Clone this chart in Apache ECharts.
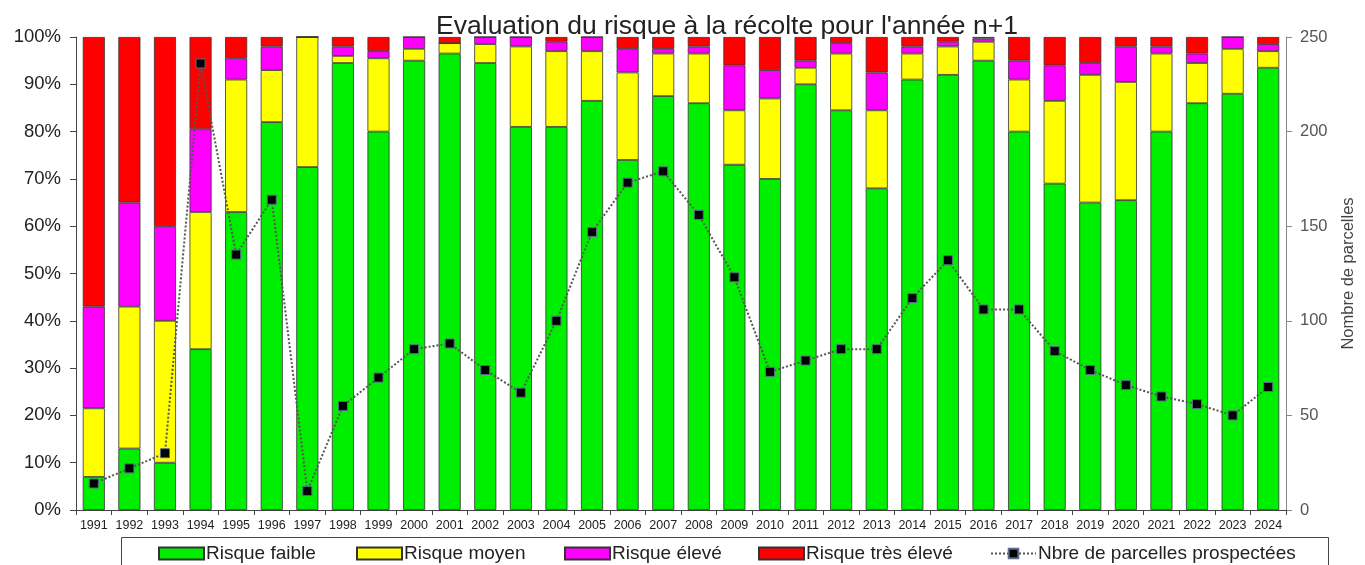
<!DOCTYPE html>
<html>
<head>
<meta charset="utf-8">
<script src="https://cdn.jsdelivr.net/npm/echarts@6/dist/echarts.min.js"></script>
<style>
html,body{margin:0;padding:0;background:#fff;}
#chart{width:1365px;height:565px;}
</style>
</head>
<body>
<div id="chart"></div>
<script>
const years = ['1991','1992','1993','1994','1995','1996','1997','1998','1999','2000','2001','2002','2003','2004','2005','2006','2007','2008','2009','2010','2011','2012','2013','2014','2015','2016','2017','2018','2019','2020','2021','2022','2023','2024'];
const risqueFaible = [7,13,10,34,63,82,72.5,94.5,80,95,96.5,94.5,81,81,86.5,74,87.5,86,73,70,90,84.5,68,91,92,95,80,69,65,65.5,80,86,88,93.5];
const risqueMoyen = [14.5,30,30,29,28,11,27.5,1.5,15.5,2.5,2.2,4,17,16,10.5,18.5,9,10.5,11.5,17,3.5,12,16.5,5.5,6,4,11,17.5,27,25,16.5,8.5,9.5,3.5];
const risqueEleve = [21.5,22,20,17.5,4.5,5,0,2,1.5,2.5,0,1.5,2,2,3,5,1,1.5,9.5,6,1.5,2.2,8,1.5,1,0.7,4,7.5,2.5,7.5,1.5,2,2.5,1.5];
const risqueTresEleve = [57,35,40,19.5,4.5,2,0,2,3,0,1.3,0,0,1,0,2.5,2.5,2,6,7,5,1.3,7.5,2,1,0.3,5,6,5.5,2,2,3.5,0,1.5];
const nbreParcelles = [14,22,30,236,135,164,10,55,70,85,88,74,62,100,147,173,179,156,123,73,79,85,85,112,132,106,106,84,74,66,60,56,50,65];
const leftTicks = [0,10,20,30,40,50,60,70,80,90,100];
const rightTicks = [0,50,100,150,200,250];
const seriesNames = ['Risque faible','Risque moyen','Risque élevé','Risque très élevé','Nbre de parcelles prospectées'];

const chart = echarts.init(document.getElementById('chart'));
const FONT = "'Liberation Sans', Arial, sans-serif";
const barStyle = (c) => ({color: c, borderColor: '#333', borderWidth: 0.8});
const mkBar = (name, data, color) => ({
  name, type: 'bar', stack: 'risque', data, barCategoryGap: '38%',
  itemStyle: barStyle(color), emphasis: {disabled: true}
});
const legendLefts = [158, 356, 564, 758, 990];
const legends = seriesNames.map((n, i) => ({
  left: legendLefts[i], top: 544, itemWidth: 45, itemHeight: 12, padding: 0,
  textStyle: {fontSize: 19, color: '#222', fontFamily: FONT, padding: [0,0,0,-3]},
  data: i < 4 ? [{name: n, icon: 'rect'}] : [{name: n}]
}));
chart.setOption({
  animation: false,
  textStyle: {fontFamily: FONT},
  title: {
    text: "Evaluation du risque à la récolte pour l'année n+1",
    left: 722, textAlign: 'center', top: 8,
    textStyle: {fontSize: 26.5, fontWeight: 'normal', color: '#222', fontFamily: FONT}
  },
  grid: {left: 76, right: 78, top: 37, bottom: 55, containLabel: false},
  graphic: [{
    type: 'rect', shape: {x: 121.5, y: 537.5, width: 1207, height: 40},
    style: {fill: 'none', stroke: '#444', lineWidth: 1}, silent: true
  }],
  legend: legends,
  xAxis: {
    type: 'category', data: years,
    axisLine: {lineStyle: {color: '#444'}},
    axisTick: {show: true, length: 5, lineStyle: {color: '#444'}},
    axisLabel: {fontSize: 12.5, color: '#222', margin: 9, interval: 0}
  },
  yAxis: [{
    type: 'value', min: leftTicks[0], max: leftTicks[leftTicks.length-1], interval: 10,
    axisLine: {show: true, lineStyle: {color: '#444'}},
    axisTick: {show: true, length: 6, lineStyle: {color: '#444'}},
    splitLine: {show: false},
    axisLabel: {formatter: '{value}%', fontSize: 18.5, color: '#222', margin: 15}
  }, {
    type: 'value', min: rightTicks[0], max: rightTicks[rightTicks.length-1], interval: 50,
    position: 'right',
    name: 'Nombre de parcelles', nameLocation: 'middle', nameRotate: 90, nameGap: 54,
    nameTextStyle: {fontSize: 16.5, color: '#444'},
    axisLine: {show: true, lineStyle: {color: '#888'}},
    axisTick: {show: true, length: 6, lineStyle: {color: '#888'}},
    splitLine: {show: false},
    axisLabel: {fontSize: 16.5, color: '#555', margin: 14}
  }],
  series: [
    mkBar(seriesNames[0], risqueFaible, '#00ee00'),
    mkBar(seriesNames[1], risqueMoyen, '#ffff00'),
    mkBar(seriesNames[2], risqueEleve, '#ff00ff'),
    mkBar(seriesNames[3], risqueTresEleve, '#ff0000'),
    {
      name: seriesNames[4], type: 'line', yAxisIndex: 1,
      data: nbreParcelles, symbol: 'rect', symbolSize: 9,
      lineStyle: {type: 'dotted', color: '#555', width: 2},
      itemStyle: {color: '#000', borderColor: '#5a6b8c', borderWidth: 1},
      emphasis: {disabled: true}, z: 5
    }
  ]
});
</script>
</body>
</html>
